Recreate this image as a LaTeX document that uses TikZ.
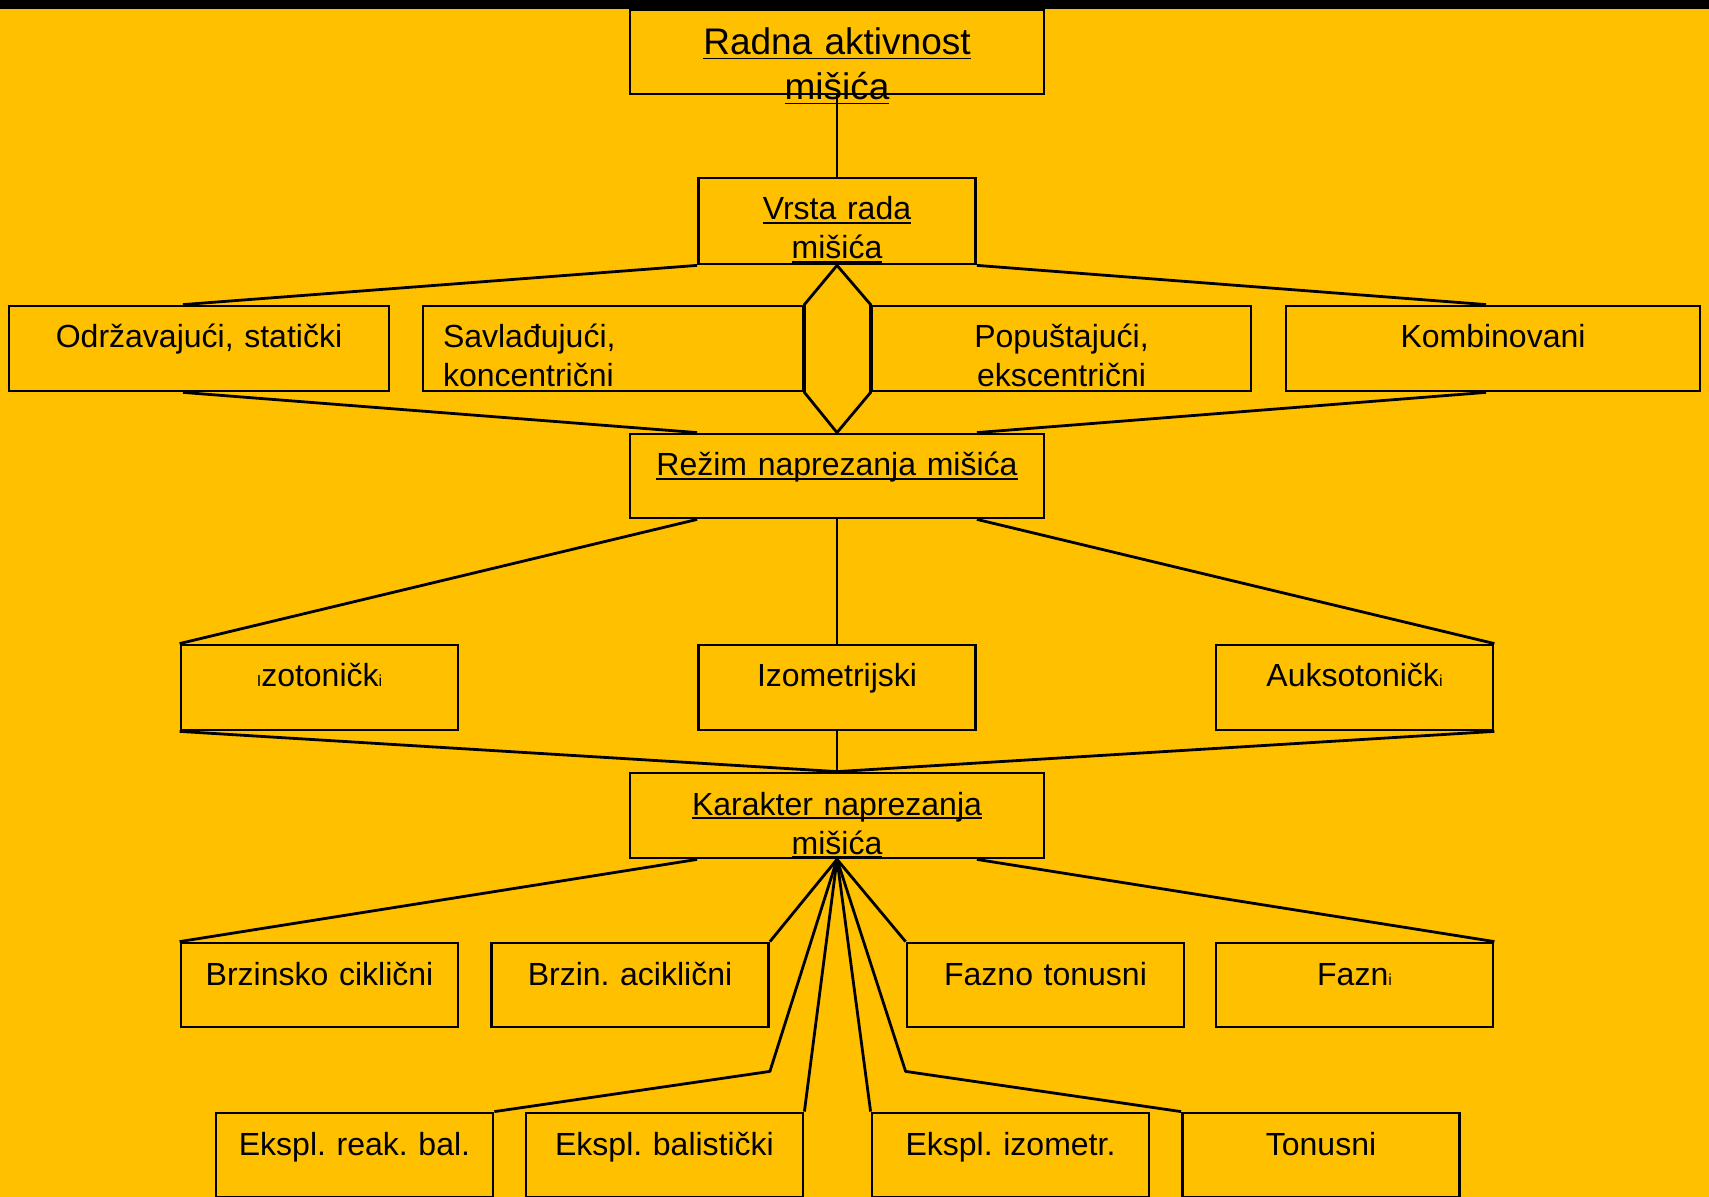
\documentclass[tikz,border=0pt]{standalone}
\usepackage{fontspec}
\setmainfont{Liberation Sans}
\frenchspacing
\definecolor{gold}{HTML}{FFC000}
\newlength\ulen
\newcommand{\ulin}[1]{\leavevmode\settowidth{\ulen}{#1}\rlap{\rule[-0.12em]{\ulen}{0.05em}}#1}
\newcommand{\tinych}[1]{{\fontsize{8pt}{8pt}\selectfont #1}}

\begin{document}
\begin{tikzpicture}[x=0.5pt,y=-0.5pt,
  box/.style={draw, line width=1.4pt, inner sep=0pt, text width=#1, align=center,
    text height=21pt, text depth=21.5pt, font=\fontsize{16pt}{19.5pt}\selectfont},
  box/.default=138.5pt,
  link/.style={line width=1.4pt, line join=round}]
  \useasboundingbox (0,0) rectangle (1709,1197);
  \fill[gold] (0,0) rectangle (1709,1197);
  \fill[black] (0,0) rectangle (1709,9);

  % Top of the tree
  \node[box=207pt, text height=22.5pt, text depth=19.5pt,
    font=\fontsize{18.5pt}{22.5pt}\selectfont] (radna) at (837,52)
    {\ulin{Radna aktivnost}\\\ulin{mišića}};
  \node[box, text depth=22pt] (vrsta) at (837,221) {\ulin{Vrsta rada}\\\ulin{mišića}};

  % Kind of work
  \node[box=190pt] (odrz) at (199,348.5) {Održavajući, statički};
  \node[box=170pt, align=left, inner xsep=10pt] (savl) at (613,348.5) {Savlađujući,\\koncentrični};
  \node[box=189.5pt] (popu) at (1061.5,348.5) {Popuštajući,\\ekscentrični};
  \node[box=207pt] (komb) at (1493,348.5) {Kombinovani};

  \node[box=207pt, text depth=21pt] (rezim) at (837,476) {\ulin{Režim naprezanja mišića}};

  % Regime
  \foreach \name/\x/\txt in {izot/319.5/{\tinych{I}zotoničk\tinych{i}},
      izom/837/Izometrijski, auks/1354.5/{Auksotoničk\tinych{i}}}
    \node[box] (\name) at (\x,687.5) {\txt};

  \node[box=207pt] (karakter) at (837,815.5) {\ulin{Karakter naprezanja}\\\ulin{mišića}};

  % Character
  \foreach \name/\x/\txt in {brzc/319.5/Brzinsko ciklični, brza/630/Brzin. aciklični,
      fazt/1045.5/Fazno tonusni, fazn/1354.5/{Fazn\tinych{i}}}
    \node[box, text depth=21pt] (\name) at (\x,985) {\txt};
  \foreach \name/\x/\txt in {ekrb/354.5/Ekspl. reak. bal., ekba/664.5/Ekspl. balistički,
      ekiz/1010.5/Ekspl. izometr., tonu/1321/Tonusni}
    \node[box, text depth=21pt] (\name) at (\x,1155) {\txt};

  % Connectors
  \draw[link] (radna.south) -- (vrsta.north);
  \draw[link] (vrsta.south west) -- ([xshift=-8pt]odrz.north);
  \draw[link] (vrsta.south east) -- ([xshift=-3.5pt]komb.north);
  \draw[link] (vrsta.south) -- (savl.north east) -- (savl.south east) -- (rezim.north)
    -- (popu.south west) -- (popu.north west) -- cycle;
  \draw[link] ([xshift=-8pt]odrz.south) -- (vrsta.south west |- rezim.north);
  \draw[link] ([xshift=-3.5pt]komb.south) -- (vrsta.south east |- rezim.north);

  \draw[link] (izot.north west) -- (izom.north west |- rezim.south);
  \draw[link] (izom.north) -- (rezim.south);
  \draw[link] (auks.north east) -- (izom.north east |- rezim.south);
  \foreach \n/\a in {izot/south west, izom/south, auks/south east}
    \draw[link] (\n.\a) -- (karakter.north);

  \draw[link] (brzc.north west) -- (izom.south west |- karakter.south);
  \draw[link] (fazn.north east) -- (izom.south east |- karakter.south);
  \coordinate (k1) at ([yshift=-21.5pt]brza.south east);
  \coordinate (k2) at ([yshift=-21.5pt]fazt.south west);
  \foreach \to in {brza.north east, fazt.north west, ekba.north east, ekiz.north west}
    \draw[link] (karakter.south) -- (\to);
  \draw[link] (karakter.south) -- (k1) -- (ekrb.north east);
  \draw[link] (karakter.south) -- (k2) -- (tonu.north west);
\end{tikzpicture}
\end{document}
